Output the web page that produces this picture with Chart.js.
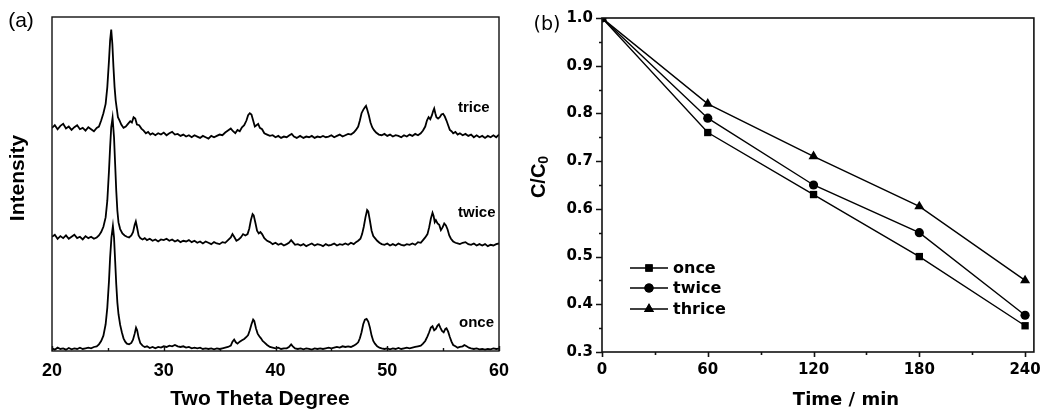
<!DOCTYPE html>
<html lang="en">
<head>
<meta charset="UTF-8">
<title>XRD patterns and C/C0 vs time</title>
<script src="https://cdn.jsdelivr.net/npm/chart.js"></script>
<style>
  body { margin: 0; background: #fff; }
  .wrap { position: relative; width: 1050px; height: 410px; }
  #xrd { position: absolute; left: 0; top: 0; }
  #kin { position: absolute; left: 520px; top: 0; }
</style>
</head>
<body>
<div class="wrap">
  <canvas id="xrd" width="520" height="410"></canvas>
  <canvas id="kin" width="530" height="410"></canvas>
</div>
<script>
// ---- panel (a): XRD traces (intensity in arbitrary units, offset per trace) ----
const degTicks = [20, 30, 40, 50, 60];
const degMinor = [25, 35, 45, 55];

const onceDeg = [20.0,20.25,20.5,20.75,21.0,21.25,21.5,21.75,22.0,22.25,22.5,22.75,23.0,23.25,23.5,23.75,24.0,24.2,24.4,24.6,24.8,24.95,25.1,25.2,25.32,25.45,25.55,25.65,25.75,25.85,25.95,26.1,26.25,26.4,26.55,26.7,26.9,27.1,27.25,27.4,27.52,27.62,27.75,27.9,28.1,28.3,28.5,28.75,29.0,29.25,29.5,29.75,30.0,30.25,30.5,30.75,31.0,31.25,31.5,31.75,32.0,32.25,32.5,32.75,33.0,33.25,33.5,33.75,34.0,34.25,34.5,34.75,35.0,35.25,35.5,35.75,36.0,36.15,36.3,36.45,36.6,36.8,37.0,37.2,37.4,37.55,37.7,37.85,38.0,38.1,38.25,38.4,38.55,38.7,38.85,39.0,39.25,39.5,39.75,40.0,40.25,40.5,40.75,41.0,41.2,41.4,41.55,41.75,42.0,42.25,42.5,42.75,43.0,43.25,43.5,43.75,44.0,44.25,44.5,44.75,45.0,45.25,45.5,45.75,46.0,46.25,46.5,46.75,47.0,47.2,47.4,47.55,47.7,47.85,48.0,48.15,48.3,48.45,48.6,48.75,48.9,49.1,49.3,49.5,49.75,50.0,50.25,50.5,50.75,51.0,51.25,51.5,51.75,52.0,52.25,52.5,52.75,53.0,53.2,53.4,53.6,53.75,53.9,54.05,54.2,54.35,54.5,54.62,54.75,54.9,55.05,55.2,55.3,55.45,55.6,55.75,55.9,56.1,56.3,56.5,56.75,56.9,57.1,57.3,57.5,57.75,58.0,58.25,58.5,58.75,59.0,59.25,59.5,59.75,60.0];
const onceInt = [8,4,10,6,8,4,9,5,8,6,10,6,8,10,8,12,14,20,30,46,80,130,210,280,340,374,340,270,200,145,110,78,56,38,28,22,20,24,34,52,70,62,40,24,16,12,14,9,12,8,12,10,14,12,16,14,18,14,12,14,10,12,8,10,8,10,6,8,6,8,5,8,6,8,10,12,16,28,34,26,22,28,32,36,42,48,62,80,94,90,68,52,44,38,30,26,18,12,10,8,10,6,8,8,12,20,14,8,6,8,5,8,6,4,8,6,8,6,8,10,8,10,12,10,14,12,14,12,16,20,26,38,56,80,94,96,88,70,46,30,22,14,10,8,6,8,5,8,6,9,6,8,10,8,10,12,14,16,22,30,44,56,70,74,62,66,76,80,70,60,56,66,68,58,42,28,18,14,10,12,14,18,14,10,8,6,8,5,6,4,6,5,8,6,7];

const twiceDeg = [20.0,20.25,20.5,20.75,21.0,21.25,21.5,21.75,22.0,22.25,22.5,22.75,23.0,23.25,23.5,23.75,24.0,24.2,24.4,24.6,24.8,24.95,25.1,25.2,25.3,25.42,25.55,25.65,25.75,25.85,25.95,26.1,26.3,26.5,26.7,26.9,27.1,27.25,27.4,27.5,27.6,27.75,27.9,28.1,28.3,28.5,28.75,29.0,29.25,29.5,29.75,30.0,30.25,30.5,30.75,31.0,31.25,31.5,31.75,32.0,32.25,32.5,32.75,33.0,33.25,33.5,33.75,34.0,34.25,34.5,34.75,35.0,35.25,35.5,35.75,36.0,36.15,36.3,36.5,36.7,36.9,37.1,37.3,37.5,37.65,37.8,37.95,38.05,38.2,38.35,38.5,38.65,38.8,39.0,39.25,39.5,39.75,40.0,40.25,40.5,40.75,41.0,41.2,41.4,41.55,41.75,42.0,42.25,42.5,42.75,43.0,43.25,43.5,43.75,44.0,44.25,44.5,44.75,45.0,45.25,45.5,45.75,46.0,46.25,46.5,46.75,47.0,47.2,47.4,47.6,47.75,47.9,48.05,48.2,48.3,48.45,48.6,48.75,48.9,49.1,49.3,49.5,49.75,50.0,50.25,50.5,50.75,51.0,51.25,51.5,51.75,52.0,52.25,52.5,52.75,53.0,53.2,53.4,53.6,53.75,53.9,54.05,54.15,54.25,54.35,54.5,54.65,54.8,54.95,55.1,55.25,55.4,55.55,55.7,55.9,56.1,56.3,56.5,56.75,57.0,57.25,57.5,57.75,58.0,58.25,58.5,58.75,59.0,59.25,59.5,59.75,60.0];
const twiceInt = [342,348,336,344,338,346,336,342,348,338,342,334,344,338,342,336,340,346,356,372,400,450,540,610,670,698,640,560,480,420,385,365,352,346,342,340,346,356,378,388,372,346,338,334,338,332,336,330,334,328,334,332,336,330,334,328,332,326,330,328,332,326,330,324,328,322,328,324,320,326,322,320,326,324,332,340,350,342,330,334,340,350,346,350,366,392,410,406,384,360,352,356,350,338,330,326,320,324,318,322,316,320,324,332,326,318,320,316,320,314,318,322,316,320,318,314,320,316,318,322,316,320,318,322,318,324,320,326,330,336,350,372,400,422,418,390,360,344,338,330,324,320,318,322,316,320,316,322,318,316,320,318,322,318,326,324,332,340,350,370,396,414,404,386,392,382,378,362,370,382,376,364,346,336,328,324,322,320,324,326,320,318,322,316,320,316,320,314,318,316,320,322];

const triceDeg = [20.0,20.25,20.5,20.75,21.0,21.25,21.5,21.75,22.0,22.25,22.5,22.75,23.0,23.25,23.5,23.75,24.0,24.2,24.4,24.6,24.8,24.95,25.1,25.2,25.3,25.4,25.5,25.6,25.7,25.8,25.9,26.05,26.2,26.4,26.6,26.8,27.0,27.15,27.3,27.45,27.6,27.8,28.0,28.2,28.4,28.6,28.8,29.0,29.25,29.5,29.75,30.0,30.25,30.5,30.75,31.0,31.25,31.5,31.75,32.0,32.25,32.5,32.75,33.0,33.25,33.5,33.75,34.0,34.25,34.5,34.75,35.0,35.25,35.5,35.75,36.0,36.2,36.4,36.6,36.8,37.0,37.2,37.4,37.55,37.7,37.85,38.0,38.15,38.3,38.45,38.6,38.8,39.0,39.25,39.5,39.75,40.0,40.25,40.5,40.75,41.0,41.25,41.45,41.65,41.9,42.2,42.5,42.75,43.0,43.25,43.5,43.75,44.0,44.25,44.5,44.75,45.0,45.25,45.5,45.75,46.0,46.25,46.5,46.75,47.0,47.2,47.4,47.55,47.7,47.85,48.0,48.1,48.2,48.35,48.5,48.65,48.8,49.0,49.25,49.5,49.75,50.0,50.25,50.5,50.75,51.0,51.25,51.5,51.75,52.0,52.25,52.5,52.75,53.0,53.2,53.4,53.55,53.7,53.85,54.0,54.1,54.2,54.3,54.4,54.55,54.7,54.85,55.0,55.15,55.3,55.45,55.6,55.75,55.9,56.1,56.3,56.5,56.75,57.0,57.25,57.5,57.75,58.0,58.25,58.5,58.75,59.0,59.25,59.5,59.75,60.0];
const triceInt = [668,676,664,674,680,666,672,662,670,676,664,668,660,670,664,658,668,672,690,712,740,790,870,930,962,920,850,790,750,725,700,690,678,668,672,680,688,684,700,696,678,676,666,660,652,656,648,652,646,652,648,654,646,652,656,648,650,644,648,642,646,640,646,642,638,644,640,636,644,640,644,648,646,654,660,666,658,652,662,658,670,676,690,706,712,708,690,672,676,680,668,664,652,648,644,646,640,644,638,642,640,646,650,642,638,644,638,642,640,644,638,642,640,644,640,642,646,640,644,648,642,646,650,648,654,662,672,690,712,722,730,734,724,706,684,670,662,654,648,646,650,644,648,642,646,644,640,646,642,648,644,650,646,652,660,672,690,700,694,706,718,726,712,700,696,700,708,710,702,690,676,662,658,652,656,648,652,646,650,644,648,640,646,640,644,638,644,640,646,640,648];

// ---- panel (b): relative concentration vs irradiation time ----
const timeMin = [0, 60, 120, 180, 240];
const onceC = [1.0, 0.76, 0.63, 0.50, 0.355];
const twiceC = [1.0, 0.79, 0.65, 0.55, 0.377];
const thriceC = [1.0, 0.82, 0.71, 0.605, 0.45];
const timeTicks = [0, 60, 120, 180, 240];
const timeMinor = [30, 90, 150, 210];
const cTicks = [0.3, 0.4, 0.5, 0.6, 0.7, 0.8, 0.9, 1.0];
const cMinor = [0.35, 0.45, 0.55, 0.65, 0.75, 0.85, 0.95];

const ARIAL = "'Liberation Sans', Arial, sans-serif";
const DEJA = "'DejaVu Sans', Verdana, sans-serif";

// box + tick marks + free texts
const framePlugin = {
  id: 'frame',
  afterDraw(chart, args, o) {
    const { ctx, chartArea: a } = chart;
    const xs = chart.scales.x, ys = chart.scales.y;
    const d = o.inward ? -1 : 1;
    ctx.save();
    ctx.strokeStyle = '#111';
    ctx.lineWidth = o.lineWidth;
    ctx.strokeRect(a.left, a.top, a.right - a.left, a.bottom - a.top);
    ctx.beginPath();
    const xt = (vals, len) => vals.forEach(v => {
      const p = Math.round(xs.getPixelForValue(v)) + 0.5;
      ctx.moveTo(p, a.bottom); ctx.lineTo(p, a.bottom + d * len);
    });
    const yt = (vals, len) => vals.forEach(v => {
      const p = Math.round(ys.getPixelForValue(v)) + 0.5;
      ctx.moveTo(a.left, p); ctx.lineTo(a.left - d * len, p);
    });
    xt(o.xMajor || [], o.xMajorLen); xt(o.xMinor || [], o.xMinorLen);
    yt(o.yMajor || [], o.yMajorLen || 0); yt(o.yMinor || [], o.yMinorLen || 0);
    ctx.stroke();

    ctx.fillStyle = '#000';
    (o.texts || []).forEach(t => {
      ctx.save();
      ctx.font = t.font;
      let x = t.x, y = t.y;
      if (t.dx !== undefined) { x = xs.getPixelForValue(t.dx); y = ys.getPixelForValue(t.dy); }
      ctx.translate(x, y);
      if (t.rot) ctx.rotate(t.rot);
      const align = t.align || 'center';
      ctx.textBaseline = t.base || 'middle';
      if (t.sub) {
        // main text + subscript, centred as a whole
        const w = ctx.measureText(t.text).width;
        ctx.font = t.subFont;
        const ws = ctx.measureText(t.sub).width;
        const start = -(w + ws) / 2;
        ctx.textAlign = 'left';
        ctx.fillText(t.sub, start + w, t.subDy);
        ctx.font = t.font;
        ctx.fillText(t.text, start, 0);
      } else {
        ctx.textAlign = align;
        ctx.fillText(t.text, 0, 0);
      }
      ctx.restore();
    });
    ctx.restore();
  }
};

// legend with line-marker-line samples
const legendPlugin = {
  id: 'lineLegend',
  afterDraw(chart, args, o) {
    if (!o.rows) return;
    const { ctx, chartArea: a } = chart;
    ctx.save();
    chart.data.datasets.forEach((ds, i) => {
      const y = a.top + o.rows[i];
      const x0 = a.left + o.x0, x1 = a.left + o.x1, xm = (x0 + x1) / 2;
      ctx.strokeStyle = '#000';
      ctx.lineWidth = 1.5;
      ctx.beginPath(); ctx.moveTo(x0, y); ctx.lineTo(x1, y); ctx.stroke();
      ctx.fillStyle = '#000';
      Chart.helpers.drawPoint(ctx, { pointStyle: ds.pointStyle, radius: ds.pointRadius, rotation: 0, borderWidth: 0 }, xm, y);
      ctx.fill();
      ctx.font = o.font;
      ctx.textAlign = 'left';
      ctx.textBaseline = 'middle';
      ctx.fillText(ds.label, x1 + 5, y + 1);
    });
    ctx.restore();
  }
};

function trace(label, xs, ys) {
  return {
    label: label,
    data: xs.map((x, i) => ({ x: x, y: ys[i] })),
    borderColor: '#000', borderWidth: 1.8, pointRadius: 0, tension: 0, fill: false
  };
}

new Chart(document.getElementById('xrd'), {
  type: 'line',
  data: { datasets: [trace('once', onceDeg, onceInt), trace('twice', twiceDeg, twiceInt), trace('trice', triceDeg, triceInt)] },
  options: {
    responsive: false, animation: false,
    layout: { padding: { top: 17, right: 21, left: 0, bottom: 0 } },
    plugins: {
      legend: { display: false }, tooltip: { enabled: false },
      frame: {
        inward: true, lineWidth: 1.4,
        xMajor: degTicks, xMinor: degMinor, xMajorLen: 5, xMinorLen: 3,
        texts: [
          { text: '(a)', x: 21, y: 21, font: '21px ' + ARIAL },
          { text: 'Intensity', x: 18, y: 178, rot: -Math.PI / 2, font: 'bold 21px ' + ARIAL },
          { text: 'Two Theta Degree', x: 260, y: 405, base: 'alphabetic', font: 'bold 21px ' + ARIAL },
          { text: 'trice', dx: 56.33, dy: 727, align: 'left', font: 'bold 15px ' + ARIAL },
          { text: 'twice', dx: 56.33, dy: 413, align: 'left', font: 'bold 15px ' + ARIAL },
          { text: 'once', dx: 56.42, dy: 84, align: 'left', font: 'bold 15px ' + ARIAL }
        ]
      }
    },
    scales: {
      x: {
        type: 'linear', min: 20, max: 60,
        grid: { display: false, drawTicks: false }, border: { display: false },
        afterBuildTicks: s => { s.ticks = degTicks.map(v => ({ value: v })); },
        ticks: { color: '#000', padding: 9, maxRotation: 0, font: { family: ARIAL, size: 18, weight: 'bold' } },
        afterFit: s => { s.height = 59; }
      },
      y: {
        min: 0, max: 1000,
        ticks: { display: false }, grid: { display: false, drawTicks: false }, border: { display: false },
        afterFit: s => { s.width = 52; }
      }
    }
  },
  plugins: [framePlugin]
});

function series(label, ys, style, r) {
  return {
    label: label,
    data: timeMin.map((t, i) => ({ x: t, y: ys[i] })),
    borderColor: '#000', borderWidth: 1.4, backgroundColor: '#000',
    pointStyle: style, pointRadius: r, pointBorderWidth: 0, pointBackgroundColor: '#000',
    tension: 0, fill: false
  };
}

new Chart(document.getElementById('kin'), {
  type: 'line',
  data: { datasets: [series('once', onceC, 'rect', 5.2), series('twice', twiceC, 'circle', 4.6), series('thrice', thriceC, 'triangle', 5.8)] },
  options: {
    responsive: false, animation: false,
    layout: { padding: { top: 14, right: 13, left: 0, bottom: 0 } },
    plugins: {
      legend: { display: false }, tooltip: { enabled: false },
      lineLegend: { rows: [250, 270, 291], x0: 28, x1: 66, font: 'bold 16px ' + DEJA },
      frame: {
        inward: false, lineWidth: 1.6,
        xMajor: timeTicks, xMinor: timeMinor, xMajorLen: 5, xMinorLen: 3,
        yMajor: cTicks, yMinor: cMinor, yMajorLen: 6, yMinorLen: 3,
        texts: [
          { text: '(b)', x: 27, y: 25, font: '19px ' + DEJA },
          { text: 'C/C', sub: '0', subFont: 'bold 14px ' + ARIAL, subDy: 5, x: 19, y: 177, rot: -Math.PI / 2, font: 'bold 20px ' + ARIAL },
          { text: 'Time / min', x: 326, y: 405, base: 'alphabetic', font: 'bold 18px ' + DEJA }
        ]
      }
    },
    scales: {
      x: {
        type: 'linear', min: 0, max: 245,
        grid: { display: false, drawTicks: false }, border: { display: false },
        afterBuildTicks: s => { s.ticks = timeTicks.map(v => ({ value: v })); },
        ticks: { color: '#000', padding: 9, maxRotation: 0, font: { family: DEJA, size: 15, weight: 'bold' } },
        afterFit: s => { s.height = 58; }
      },
      y: {
        min: 0.3, max: 1.0,
        grid: { display: false, drawTicks: false }, border: { display: false },
        afterBuildTicks: s => { s.ticks = cTicks.map(v => ({ value: v })); },
        ticks: { color: '#000', padding: 9, font: { family: DEJA, size: 15, weight: 'bold' }, callback: v => v.toFixed(1) },
        afterFit: s => { s.width = 82; }
      }
    }
  },
  plugins: [framePlugin, legendPlugin]
});
</script>
</body>
</html>
